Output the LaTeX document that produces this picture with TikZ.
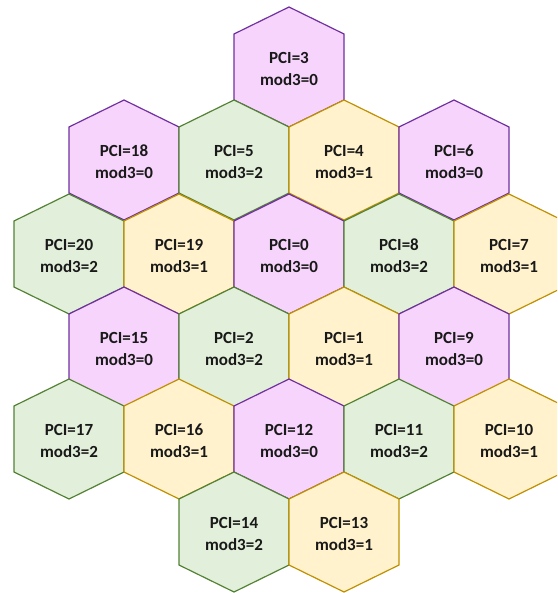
\documentclass[tikz,border=0pt]{standalone}
\usepackage{fontspec}
\setmainfont{Carlito}
\definecolor{lilacfill}{HTML}{F6D4FB}
\definecolor{lilacline}{HTML}{7030A0}
\definecolor{greenfill}{HTML}{E2EFDA}
\definecolor{greenline}{HTML}{548235}
\definecolor{goldfill}{HTML}{FFF2CC}
\definecolor{goldline}{HTML}{BF9000}
\tikzset{
  cell0/.style={fill=lilacfill, draw=lilacline},
  cell1/.style={fill=goldfill, draw=goldline},
  cell2/.style={fill=greenfill, draw=greenline},
  celltext/.style={align=center, inner sep=0pt,
    font=\bfseries\fontsize{17}{22}\selectfont, text=black!90}
}
% one hexagonal cell: centre x, centre y, PCI, PCI mod 3
\newcommand\hexcell[4]{%
  \draw[cell#4, line width=1.2pt, line join=miter]
    (#1,#2) ++(0,-60) -- ++(55,27) -- ++(0,66) -- ++(-55,27)
    -- ++(-55,-27) -- ++(0,-66) -- cycle;
  \node[celltext] (pci#3) at (#1,#2+2) {PCI=#3\\mod3=#4};
}
\begin{document}
\begin{tikzpicture}[x=1pt,y=-1pt]
  \useasboundingbox (0,0) rectangle (557,593);
  \clip (0,0) rectangle (557,593);
  % row 0
  \hexcell{289}{67}{3}{0}
  % row 1
  \hexcell{124}{160}{18}{0}
  \hexcell{234}{160}{5}{2}
  \hexcell{344}{160}{4}{1}
  \hexcell{454}{160}{6}{0}
  % row 2
  \hexcell{69}{254}{20}{2}
  \hexcell{179}{254}{19}{1}
  \hexcell{289}{254}{0}{0}
  \hexcell{399}{254}{8}{2}
  \hexcell{509}{254}{7}{1}
  % row 3
  \hexcell{124}{347}{15}{0}
  \hexcell{234}{347}{2}{2}
  \hexcell{344}{347}{1}{1}
  \hexcell{454}{347}{9}{0}
  % row 4
  \hexcell{69}{439}{17}{2}
  \hexcell{179}{439}{16}{1}
  \hexcell{289}{439}{12}{0}
  \hexcell{399}{439}{11}{2}
  \hexcell{509}{439}{10}{1}
  % row 5
  \hexcell{234}{532}{14}{2}
  \hexcell{344}{532}{13}{1}
\end{tikzpicture}
\end{document}
